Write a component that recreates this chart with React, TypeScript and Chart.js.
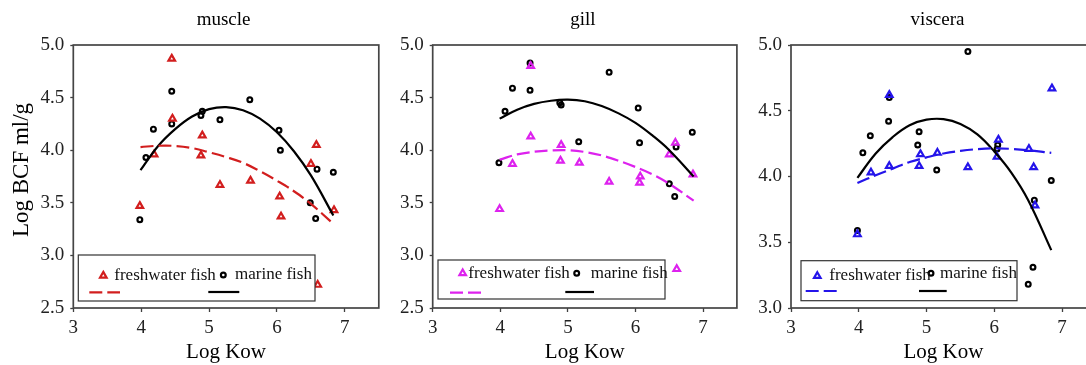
import React, { useEffect, useRef } from "react";
import { Chart, registerables } from "chart.js";

Chart.register(...registerables);

const FONT = '"Liberation Serif", "Times New Roman", Times, serif';

// ---------- tick labels ----------
const xTicks = [3, 4, 5, 6, 7];
const yTicksWide = [2.5, 3.0, 3.5, 4.0, 4.5, 5.0];
const yTicksNarrow = [3.0, 3.5, 4.0, 4.5, 5.0];

// ---------- muscle ----------
const muscleFreshX = [3.98, 4.45, 4.46, 4.19, 4.9, 4.88, 5.16, 5.61, 6.04, 6.06, 6.5, 6.58, 6.84, 6.6];
const muscleFreshY = [3.47, 4.87, 4.3, 3.96, 4.14, 3.95, 3.67, 3.71, 3.56, 3.37, 3.87, 4.05, 3.43, 2.72];
const muscleMarineX = [3.98, 4.07, 4.18, 4.45, 4.45, 4.88, 4.9, 5.16, 5.6, 6.03, 6.05, 6.49, 6.59, 6.57, 6.83];
const muscleMarineY = [3.34, 3.93, 4.2, 4.56, 4.25, 4.33, 4.37, 4.29, 4.48, 4.19, 4.0, 3.5, 3.82, 3.35, 3.79];
const muscleFitX = [3.99, 4.25, 4.5, 4.75, 5.0, 5.25, 5.5, 5.75, 6.0, 6.25, 6.5, 6.83];
const muscleFreshFitY = [4.03, 4.042, 4.04, 4.02, 3.98, 3.935, 3.88, 3.8, 3.71, 3.61, 3.49, 3.3];
const muscleMarineFitY = [3.81, 4.04, 4.2, 4.32, 4.39, 4.41, 4.38, 4.3, 4.17, 3.99, 3.76, 3.38];

// ---------- gill ----------
const gillFreshX = [3.99, 4.18, 4.45, 4.45, 4.9, 4.89, 5.17, 5.61, 6.06, 6.07, 6.5, 6.59, 6.85, 6.61];
const gillFreshY = [3.44, 3.87, 4.13, 4.8, 4.05, 3.9, 3.88, 3.7, 3.69, 3.75, 3.96, 4.07, 3.77, 2.87];
const gillMarineX = [3.98, 4.07, 4.18, 4.44, 4.44, 4.88, 4.9, 5.16, 5.61, 6.04, 6.06, 6.5, 6.58, 6.6, 6.84];
const gillMarineY = [3.88, 4.37, 4.59, 4.83, 4.57, 4.45, 4.43, 4.08, 4.74, 4.4, 4.07, 3.68, 3.56, 4.03, 4.17];
const gillFitX = [3.99, 4.25, 4.5, 4.75, 5.0, 5.25, 5.5, 5.75, 6.0, 6.25, 6.5, 6.86];
const gillFreshFitY = [3.91, 3.96, 3.985, 3.998, 4.0, 3.983, 3.95, 3.9, 3.84, 3.77, 3.68, 3.52];
const gillMarineFitY = [4.3, 4.385, 4.44, 4.47, 4.48, 4.465, 4.42, 4.35, 4.26, 4.14, 4.0, 3.75];

// ---------- viscera ----------
const visceraFreshX = [3.98, 4.18, 4.45, 4.45, 4.91, 4.89, 5.16, 5.61, 6.04, 6.06, 6.51, 6.58, 6.6, 6.85];
const visceraFreshY = [3.56, 4.03, 4.08, 4.62, 4.17, 4.08, 4.18, 4.07, 4.15, 4.28, 4.21, 4.07, 3.78, 4.67];
const visceraMarineX = [3.98, 4.06, 4.17, 4.44, 4.45, 4.89, 4.87, 5.15, 5.61, 6.04, 6.05, 6.5, 6.57, 6.59, 6.84];
const visceraMarineY = [3.59, 4.18, 4.31, 4.42, 4.6, 4.34, 4.24, 4.05, 4.95, 4.21, 4.24, 3.18, 3.31, 3.82, 3.97];
const visceraFitX = [3.98, 4.25, 4.5, 4.75, 5.0, 5.25, 5.5, 5.75, 6.0, 6.25, 6.5, 6.84];
const visceraFreshFitY = [3.95, 4.01, 4.06, 4.11, 4.145, 4.175, 4.195, 4.208, 4.214, 4.21, 4.2, 4.18];
const visceraMarineFitY = [3.99, 4.175, 4.3, 4.39, 4.432, 4.436, 4.4, 4.32, 4.19, 4.03, 3.82, 3.44];

const seriesLabels = ["freshwater fish", "marine fish"];

const pts = (xs: number[], ys: number[]) => xs.map((x, i) => ({ x, y: ys[i] }));

type Legend = {
  box: [number, number, number, number]; // relative to chartArea left / bottom
  tri: [number, number];
  freshText: number;
  circ: [number, number];
  marineText: number;
  dash: [number, number, number];
  solid: [number, number, number];
};

type PanelCfg = {
  title: string;
  titleDx: number;
  color: string;
  yMin: number;
  yTicks: number[];
  yWidth: number;
  padRight: number;
  yTitle: boolean;
  freshX: number[];
  freshY: number[];
  marineX: number[];
  marineY: number[];
  fitX: number[];
  freshFitY: number[];
  marineFitY: number[];
  legend: Legend;
};

const drawTriangle = (ctx: CanvasRenderingContext2D, x: number, y: number, r: number) => {
  let rad = 0;
  ctx.beginPath();
  ctx.moveTo(x + Math.sin(rad) * r, y - Math.cos(rad) * r);
  rad += (2 * Math.PI) / 3;
  ctx.lineTo(x + Math.sin(rad) * r, y - Math.cos(rad) * r);
  rad += (2 * Math.PI) / 3;
  ctx.lineTo(x + Math.sin(rad) * r, y - Math.cos(rad) * r);
  ctx.closePath();
  ctx.stroke();
};

const decorPlugin = {
  id: "decor",
  afterDatasetsDraw(chart: any, _args: any, opts: any) {
    const { ctx, chartArea: a } = chart;
    const cfg: PanelCfg = opts.cfg;
    if (!cfg) return;
    ctx.save();
    // frame
    ctx.strokeStyle = "#454545";
    ctx.lineWidth = 1.7;
    ctx.strokeRect(a.left, a.top, a.right - a.left, a.bottom - a.top);

    // legend
    const lg = cfg.legend;
    const L = a.left;
    const B = a.bottom;
    ctx.fillStyle = "#ffffff";
    ctx.fillRect(L + lg.box[0], B + lg.box[1], lg.box[2] - lg.box[0], lg.box[3] - lg.box[1]);
    ctx.strokeStyle = "#333";
    ctx.lineWidth = 1.2;
    ctx.strokeRect(L + lg.box[0], B + lg.box[1], lg.box[2] - lg.box[0], lg.box[3] - lg.box[1]);

    ctx.lineWidth = 2.2;
    ctx.strokeStyle = cfg.color;
    drawTriangle(ctx, L + lg.tri[0], B + lg.tri[1], 3.8);
    ctx.strokeStyle = "#000";
    ctx.beginPath();
    ctx.arc(L + lg.circ[0], B + lg.circ[1], 2.4, 0, Math.PI * 2);
    ctx.stroke();

    ctx.fillStyle = "#111";
    ctx.font = `17px ${FONT}`;
    ctx.textBaseline = "middle";
    ctx.textAlign = "left";
    ctx.fillText(seriesLabels[0], L + lg.freshText, B + lg.tri[1]);
    ctx.fillText(seriesLabels[1], L + lg.marineText, B + lg.circ[1]);

    ctx.lineWidth = 2.2;
    ctx.strokeStyle = cfg.color;
    ctx.setLineDash([13, 5]);
    ctx.beginPath();
    ctx.moveTo(L + lg.dash[0], B + lg.dash[2]);
    ctx.lineTo(L + lg.dash[1], B + lg.dash[2]);
    ctx.stroke();
    ctx.setLineDash([]);
    ctx.strokeStyle = "#000";
    ctx.beginPath();
    ctx.moveTo(L + lg.solid[0], B + lg.solid[2]);
    ctx.lineTo(L + lg.solid[1], B + lg.solid[2]);
    ctx.stroke();

    // panel title
    ctx.fillStyle = "#000";
    ctx.font = `19px ${FONT}`;
    ctx.textAlign = "center";
    ctx.textBaseline = "middle";
    ctx.fillText(cfg.title, (a.left + a.right) / 2 + cfg.titleDx, 20);

    if (cfg.yTitle) {
      ctx.save();
      ctx.translate(21.5, 170);
      ctx.rotate(-Math.PI / 2);
      ctx.font = `23px ${FONT}`;
      ctx.textAlign = "center";
      ctx.textBaseline = "middle";
      ctx.fillText("Log BCF ml/g", 0, 0);
      ctx.restore();
    }
    ctx.restore();
  },
};

const makeConfig = (cfg: PanelCfg): any => ({
  type: "scatter",
  data: {
    datasets: [
      {
        data: pts(cfg.fitX, cfg.freshFitY),
        showLine: true,
        borderColor: cfg.color,
        borderWidth: 2.2,
        borderDash: [13, 5],
        pointRadius: 0,
        tension: 0.4,
        fill: false,
      },
      {
        data: pts(cfg.fitX, cfg.marineFitY),
        showLine: true,
        borderColor: "#000",
        borderWidth: 2.2,
        pointRadius: 0,
        tension: 0.4,
        fill: false,
      },
      {
        label: seriesLabels[0],
        data: pts(cfg.freshX, cfg.freshY),
        pointStyle: "triangle",
        pointRadius: 3.8,
        pointBorderWidth: 2.2,
        borderColor: cfg.color,
        backgroundColor: "rgba(0,0,0,0)",
      },
      {
        label: seriesLabels[1],
        data: pts(cfg.marineX, cfg.marineY),
        pointStyle: "circle",
        pointRadius: 2.4,
        pointBorderWidth: 2.2,
        borderColor: "#000",
        backgroundColor: "rgba(0,0,0,0)",
      },
    ],
  },
  options: {
    responsive: false,
    animation: false,
    devicePixelRatio: 1,
    layout: { padding: { top: 45, left: 0, right: cfg.padRight, bottom: 0 } },
    plugins: {
      legend: { display: false },
      title: { display: false },
      tooltip: { enabled: false },
      decor: { cfg },
    },
    scales: {
      x: {
        type: "linear",
        min: 3,
        max: 7.5,
        afterBuildTicks: (s: any) => {
          s.ticks = xTicks.map((v) => ({ value: v }));
        },
        afterFit: (s: any) => {
          s.height = 57;
        },
        ticks: {
          font: { family: FONT, size: 19 },
          color: "#222",
          padding: 5,
          maxRotation: 0,
          callback: (v: any) => String(v),
        },
        grid: {
          display: true,
          drawOnChartArea: false,
          drawTicks: true,
          tickLength: 4,
          tickColor: "#404040",
          tickWidth: 1.3,
        },
        border: { display: false },
        title: {
          display: true,
          text: "Log Kow",
          font: { family: FONT, size: 21 },
          color: "#000",
          padding: { top: 0, bottom: 0 },
        },
      },
      y: {
        type: "linear",
        min: cfg.yMin,
        max: 5,
        afterBuildTicks: (s: any) => {
          s.ticks = cfg.yTicks.map((v) => ({ value: v }));
        },
        afterFit: (s: any) => {
          s.width = cfg.yWidth;
        },
        ticks: {
          font: { family: FONT, size: 19 },
          color: "#222",
          padding: 6,
          callback: (v: any) => Number(v).toFixed(1),
        },
        grid: {
          display: true,
          drawOnChartArea: false,
          drawTicks: true,
          tickLength: 3,
          tickColor: "#404040",
          tickWidth: 1.3,
        },
        border: { display: false },
      },
    },
  },
  plugins: [decorPlugin],
});

const panels: { left: number; width: number; cfg: PanelCfg }[] = [
  {
    left: 0,
    width: 420,
    cfg: {
      title: "muscle",
      titleDx: -2.5,
      color: "#d21e1e",
      yMin: 2.5,
      yTicks: yTicksWide,
      yWidth: 73.3,
      padRight: 420 - 378.8,
      yTitle: true,
      freshX: muscleFreshX,
      freshY: muscleFreshY,
      marineX: muscleMarineX,
      marineY: muscleMarineY,
      fitX: muscleFitX,
      freshFitY: muscleFreshFitY,
      marineFitY: muscleMarineFitY,
      legend: {
        box: [5, -53, 241.7, -7],
        tri: [30, -32.3],
        freshText: 41,
        circ: [150, -33],
        marineText: 161.7,
        dash: [16, 46.7, -15.7],
        solid: [135, 166, -16],
      },
    },
  },
  {
    left: 380,
    width: 400,
    cfg: {
      title: "gill",
      titleDx: -2,
      color: "#dd22ee",
      yMin: 2.5,
      yTicks: yTicksWide,
      yWidth: 52.7,
      padRight: 400 - (736.9 - 380),
      yTitle: false,
      freshX: gillFreshX,
      freshY: gillFreshY,
      marineX: gillMarineX,
      marineY: gillMarineY,
      fitX: gillFitX,
      freshFitY: gillFreshFitY,
      marineFitY: gillMarineFitY,
      legend: {
        box: [5.3, -48, 232.3, -9],
        tri: [30, -34.7],
        freshText: 35.6,
        circ: [144, -34.7],
        marineText: 158,
        dash: [17.3, 49, -15.3],
        solid: [132.6, 161.3, -16],
      },
    },
  },
  {
    left: 740,
    width: 380,
    cfg: {
      title: "viscera",
      titleDx: -6,
      color: "#2414ea",
      yMin: 3.0,
      yTicks: yTicksNarrow,
      yWidth: 51,
      padRight: 380 - 356,
      yTitle: false,
      freshX: visceraFreshX,
      freshY: visceraFreshY,
      marineX: visceraMarineX,
      marineY: visceraMarineY,
      fitX: visceraFitX,
      freshFitY: visceraFreshFitY,
      marineFitY: visceraMarineFitY,
      legend: {
        box: [10, -47.3, 226, -7.3],
        tri: [26.3, -32],
        freshText: 38.3,
        circ: [140, -34.7],
        marineText: 149,
        dash: [14.7, 45.7, -17],
        solid: [128, 155.7, -17],
      },
    },
  },
];

export default function App() {
  const refs = [useRef<HTMLCanvasElement>(null), useRef<HTMLCanvasElement>(null), useRef<HTMLCanvasElement>(null)];
  useEffect(() => {
    const charts = panels.map((p, i) => new Chart(refs[i].current as HTMLCanvasElement, makeConfig(p.cfg)));
    return () => charts.forEach((c) => c.destroy());
  }, []);
  return (
    <div
      style={{
        position: "fixed",
        left: 0,
        top: 0,
        width: 1086,
        height: 365,
        overflow: "hidden",
        background: "#fff",
      }}
    >
      {panels.map((p, i) => (
        <canvas
          key={i}
          ref={refs[i]}
          width={p.width}
          height={365}
          style={{ position: "absolute", left: p.left, top: 0, width: p.width, height: 365 }}
        />
      ))}
    </div>
  );
}
